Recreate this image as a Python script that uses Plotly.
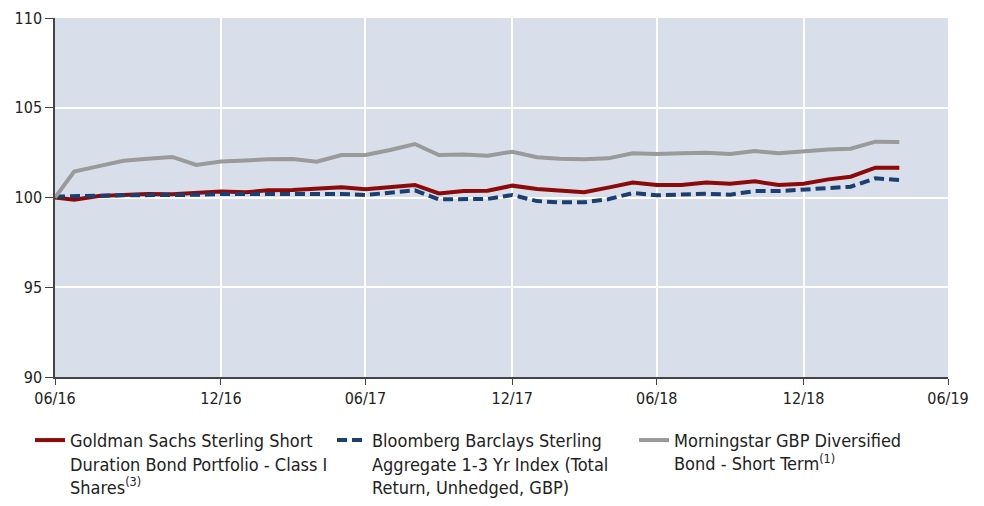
import plotly.graph_objects as go
import pandas as pd

start_date = "2016-06-06"
month_ends = pd.date_range("2016-06-30", "2019-04-30", freq="ME")
dates = [pd.Timestamp(start_date)] + list(month_ends)

gs_fund = [100.0, 99.88, 100.08, 100.14, 100.2, 100.18, 100.25, 100.34, 100.29, 100.4, 100.42,
           100.51, 100.57, 100.46, 100.59, 100.7, 100.23, 100.36, 100.38, 100.66, 100.47,
           100.36, 100.29, 100.55, 100.83, 100.7, 100.7, 100.83, 100.77, 100.9, 100.7,
           100.77, 101.01, 101.16, 101.66, 101.66]
bbg_index = [100.05, 100.05, 100.1, 100.12, 100.12, 100.1, 100.15, 100.2, 100.2, 100.21, 100.2,
             100.21, 100.2, 100.14, 100.25, 100.4, 99.9, 99.92, 99.92, 100.14, 99.8,
             99.73, 99.73, 99.9, 100.25, 100.12, 100.14, 100.21, 100.16, 100.36, 100.36,
             100.45, 100.57, 100.6, 101.07, 100.97]
ms_peer = [100.0, 101.45, 101.75, 102.05, 102.16, 102.26, 101.81, 102.0, 102.06, 102.13, 102.14,
           101.99, 102.37, 102.37, 102.65, 102.98, 102.37, 102.4, 102.33, 102.55, 102.24,
           102.16, 102.13, 102.18, 102.46, 102.42, 102.46, 102.5, 102.42, 102.59, 102.46,
           102.59, 102.68, 102.72, 103.11, 103.09]

series_names = [
    "Goldman Sachs Sterling Short<br>Duration Bond Portfolio - Class I<br>Shares<sup>(3)</sup>",
    "Bloomberg Barclays Sterling<br>Aggregate 1-3 Yr Index (Total<br>Return, Unhedged, GBP)",
    "Morningstar GBP Diversified<br>Bond - Short Term<sup>(1)</sup>",
]

x_tick_vals = ["2016-06-06", "2016-12-31", "2017-06-30", "2017-12-31", "2018-06-30", "2018-12-31", "2019-06-30"]
x_tick_text = ["06/16", "12/16", "06/17", "12/17", "06/18", "12/18", "06/19"]
y_tick_vals = [90, 95, 100, 105, 110]

FONT = "Liberation Sans Narrow, DejaVu Sans Condensed, Roboto, sans-serif"

fig = go.Figure()
fig.add_trace(go.Scatter(x=dates, y=gs_fund, mode="lines", name=series_names[0],
                         line=dict(color="#8b0a0a", width=4)))
fig.add_trace(go.Scatter(x=dates, y=bbg_index, mode="lines", name=series_names[1],
                         line=dict(color="#1b3f70", width=4, dash="10px,5px")))
fig.add_trace(go.Scatter(x=dates, y=ms_peer, mode="lines", name=series_names[2],
                         line=dict(color="#9a9a9a", width=4)))

fig.update_layout(
    width=984, height=506,
    margin=dict(l=47, r=44, t=10, b=137, autoexpand=False),
    paper_bgcolor="white",
    plot_bgcolor="#d9dfea",
    font=dict(family=FONT, size=16, color="#222222"),
    showlegend=True,
    legend=dict(
        orientation="h", x=-0.028, y=-0.125, xanchor="left", yanchor="top",
        entrywidth=257, entrywidthmode="pixels",
        font=dict(family=FONT, size=18, color="#222222"),
        valign="top", tracegroupgap=0, itemwidth=30,
        bgcolor="rgba(0,0,0,0)",
    ),
    xaxis=dict(
        type="date",
        range=[start_date, "2019-06-30"],
        tickmode="array", tickvals=x_tick_vals, ticktext=x_tick_text,
        showgrid=True, gridcolor="white", gridwidth=1.5,
        showline=True, linecolor="#444444", linewidth=1.5,
        ticks="outside", ticklen=6, tickcolor="#444444",
        zeroline=False, automargin=False, ticklabeloverflow="allow",
        tickfont=dict(family=FONT, size=16, color="#222222"),
    ),
    yaxis=dict(
        range=[90, 110],
        tickmode="array", tickvals=y_tick_vals,
        showgrid=True, gridcolor="white", gridwidth=1.5,
        showline=True, linecolor="#444444", linewidth=1.5,
        ticks="outside", ticklen=8, tickcolor="#444444",
        zeroline=False, automargin=False, ticklabeloverflow="allow",
        tickfont=dict(family=FONT, size=16, color="#222222"),
    ),
)

fig.write_html("out.html")
